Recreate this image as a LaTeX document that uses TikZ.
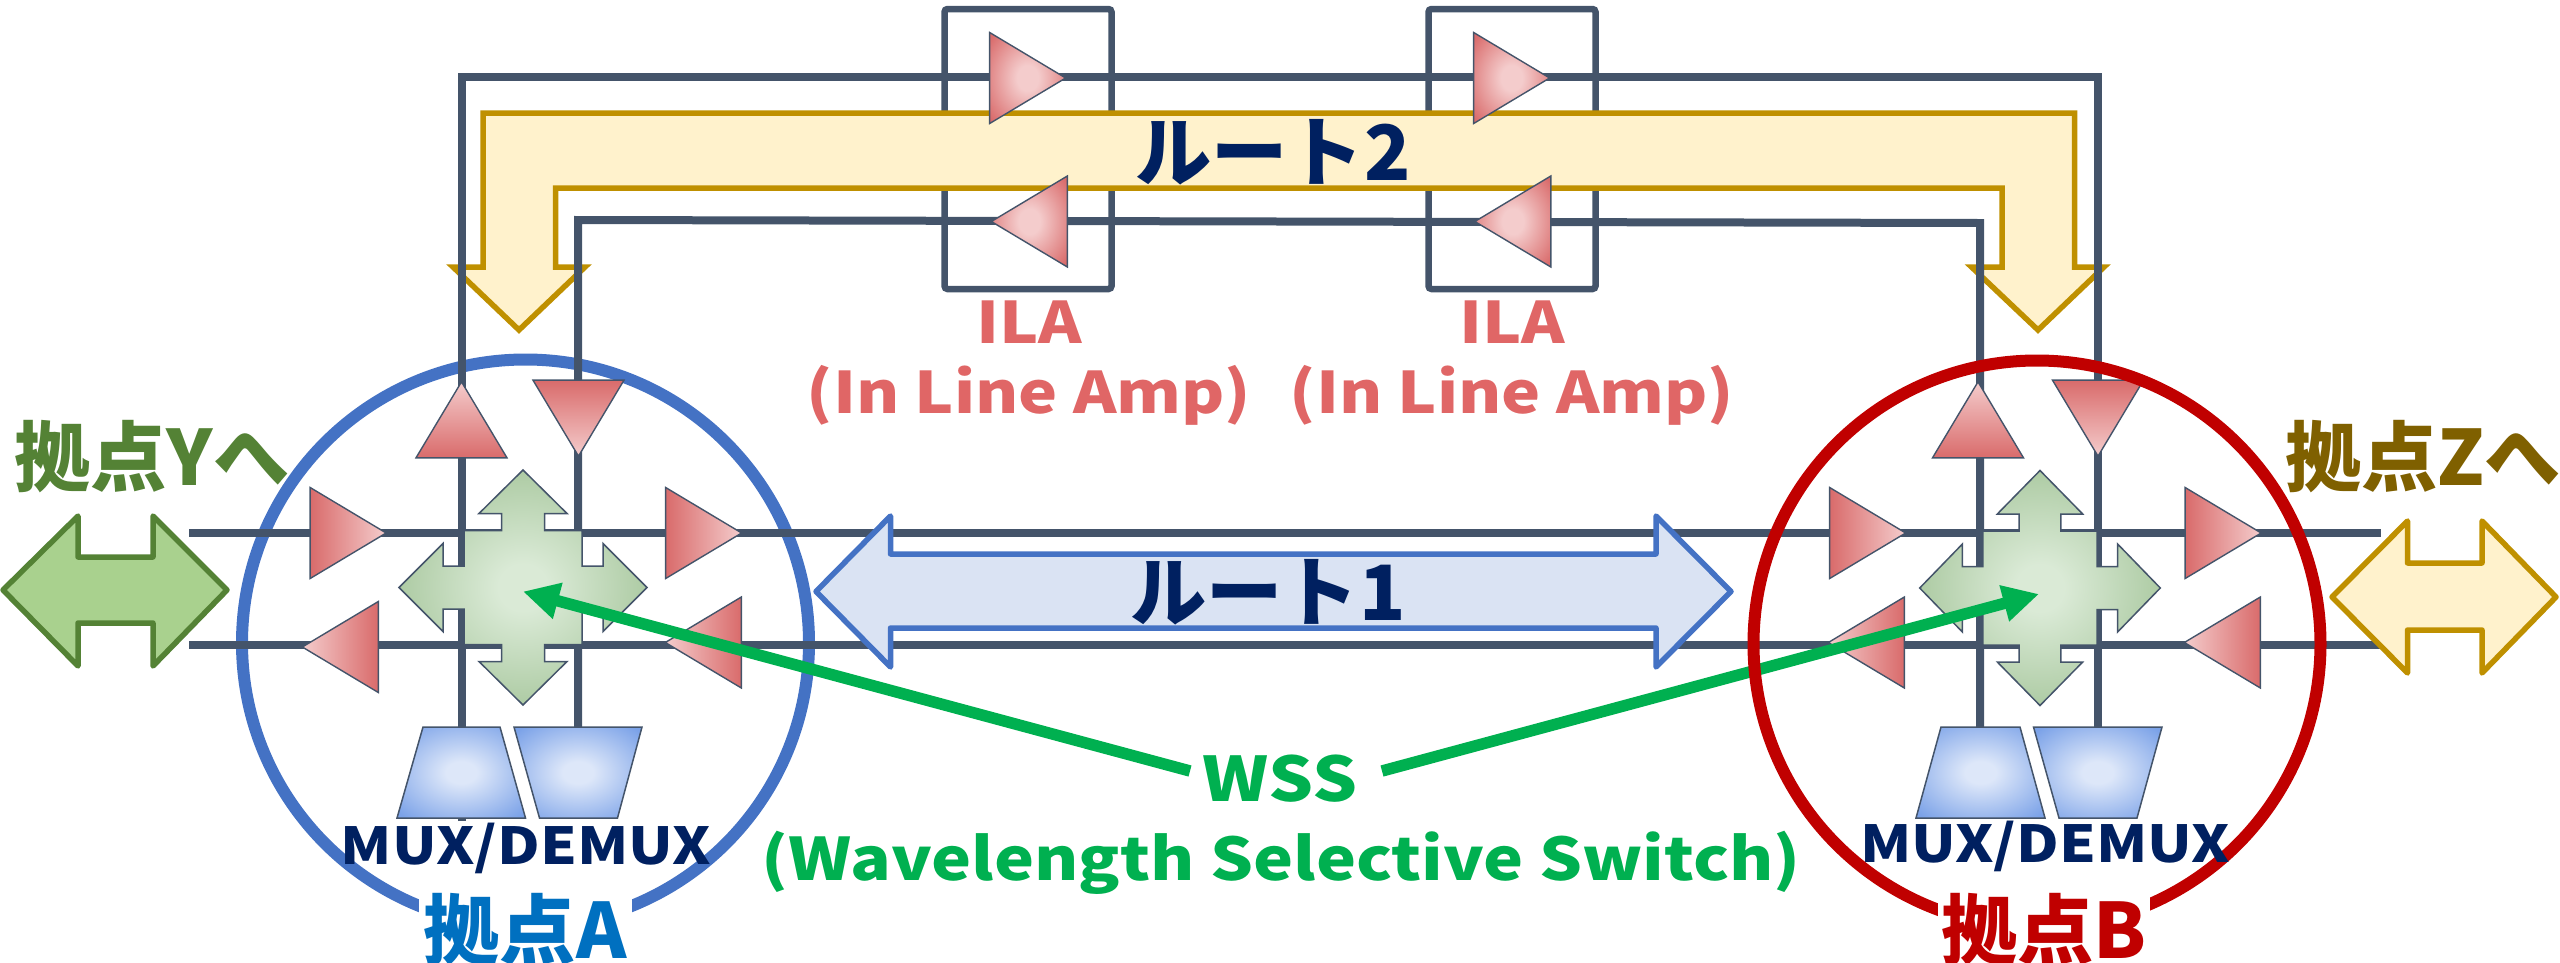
\documentclass[tikz,border=0pt]{standalone}
\usepackage{fontspec}
\setmainfont{Noto Sans CJK JP}
\newfontfamily\widefont{Noto Sans CJK JP}[FakeStretch=1.15]
\usetikzlibrary{positioning, shapes.geometric, arrows.meta}
\definecolor{busgray}{HTML}{44546A}
\definecolor{ampred}{HTML}{D96B6B}
\definecolor{amplight}{HTML}{F4CCCC}
\definecolor{crossdark}{HTML}{A9C89F}
\definecolor{crosslight}{HTML}{DAEAD6}
\definecolor{muxdark}{HTML}{7BA2E8}
\definecolor{muxlight}{HTML}{DDE7F9}
\definecolor{navytext}{HTML}{002060}
\definecolor{wssgreen}{HTML}{00B050}
\definecolor{ilatext}{HTML}{E06666}
\definecolor{sitegold}{HTML}{BF9000}
\definecolor{paleyellow}{HTML}{FFF2CC}
\definecolor{sitegreen}{HTML}{548235}
\definecolor{palegreen}{HTML}{A9D18E}
\definecolor{paleblue}{HTML}{DAE3F3}
\definecolor{siteblue}{HTML}{4472C4}
\definecolor{sitered}{HTML}{C00000}
\definecolor{nameblue}{HTML}{0070C0}
\definecolor{namegold}{HTML}{7F6000}
\pgfdeclareradialshading{ampglow}{\pgfpoint{0bp}{0bp}}{color(0bp)=(amplight); color(7bp)=(amplight); color(33bp)=(ampred); color(50bp)=(ampred)}
\pgfdeclareradialshading{crossglow}{\pgfpoint{0bp}{0bp}}{color(0bp)=(crosslight); color(5bp)=(crosslight); color(27bp)=(crossdark); color(50bp)=(crossdark)}
\pgfdeclareradialshading{muxglow}{\pgfpoint{0bp}{0bp}}{color(0bp)=(muxlight); color(6bp)=(muxlight); color(33bp)=(muxdark); color(50bp)=(muxdark)}
\tikzset{
    wsscross/.pic={
        \draw[busgray, line width=0.15mm, shading=crossglow]
            (0,-117.5) -- (44,-74) -- (21.5,-74) -- (21.5,-57) -- (59,-57) -- (59,-21.5) -- (80,-21.5) -- (80,-44)
            -- (124,0) -- (80,44) -- (80,21.5) -- (59,21.5) -- (59,57) -- (21.5,57) -- (21.5,74) -- (44,74)
            -- (0,117.5) -- (-44,74) -- (-21.5,74) -- (-21.5,57) -- (-59,57) -- (-59,21.5) -- (-80,21.5) -- (-80,44)
            -- (-124,0) -- (-80,-44) -- (-80,-21.5) -- (-59,-21.5) -- (-59,-57) -- (-21.5,-57) -- (-21.5,-74) -- (-44,-74) -- cycle;
    }
}

\begin{document}
\begin{tikzpicture}[x=0.1mm, y=-0.1mm,
    bus/.style={busgray, line width=0.8mm},
    ilabox/.style={draw=busgray, line width=0.65mm, rounded corners=0.3mm, minimum width=16.7mm, minimum height=28mm, inner sep=0},
    amp/.style={isosceles triangle, isosceles triangle stretches, draw=busgray, line width=0.14mm, inner sep=0, minimum height=7.6mm, minimum width=9.1mm, anchor=apex},
    lineamp/.style={amp, shading=ampglow},
    muxshape/.style={draw=busgray, line width=0.15mm, shading=muxglow},
    sitering/.style={circle, line width=1.2mm, inner sep=0, minimum size=56.7mm},
    biglabel/.style={inner sep=0, font=\bfseries\fontsize{21.7}{25}\selectfont},
    widelabel/.style={inner sep=0, align=center, font=\widefont\bfseries\fontsize{17.5}{20}\selectfont},
    ilalabel/.style={inner sep=0, align=center, text=ilatext, font=\widefont\bfseries\fontsize{16.3}{19.9}\selectfont},
    muxlabel/.style={inner sep=0, text=navytext, font=\widefont\bfseries\fontsize{14.5}{17}\selectfont},
    routeout/.style={line width=0.55mm, miter limit=10},
    twoway/.style={line width=0.55mm, line join=round},
    wssline/.style={wssgreen, line width=1.15mm, -{Triangle[length=3.6mm,width=3.5mm]}}]

    \useasboundingbox (0,0) rectangle (2560,963);

    \node[biglabel, text=sitegreen] (toy) at (152,457) {拠点Yへ};
    \node[biglabel, text=namegold] (toz) at (2423,457) {拠点Zへ};
    \node[sitering, draw=siteblue] (sitea) at (525.5,643) {};

    % ILA boxes, then route 2 on top of them
    \node[ilabox] (ilaone) at (1028,149) {};
    \node[ilabox] (ilatwo) at (1512,149) {};
    \draw[routeout, draw=sitegold, fill=paleyellow] (483,113) -- (2074.5,113) -- (2074.5,267) -- (2104,267) -- (2038,330)
        -- (1971.5,267) -- (2002,267) -- (2002,188) -- (555.5,188) -- (555.5,267) -- (585,267) -- (519,330) -- (453,267) -- (483,267) -- cycle;

    \coordinate (topa) at (461.5,77);
    \coordinate (topb) at (2098,77);
    \coordinate (lowa) at (578,220);
    \coordinate (lowb) at (1980,223);
    \coordinate (muxaa) at (461.5,821);
    \coordinate (muxab) at (578,730);
    \coordinate (muxba) at (1980,730);
    \coordinate (muxbb) at (2098,730);
    \coordinate (westup) at (189,533);
    \coordinate (eastup) at (2381,533);
    \coordinate (westlow) at (189,645);
    \coordinate (eastlow) at (2381,645);

    \draw[bus] (muxaa) -- (topa) -- (topb) -- (muxbb);
    \draw[bus] (muxab) -- (lowa) -- (lowb) -- (muxba);
    \draw[bus] (westup) -- (eastup);
    \draw[bus] (westlow) -- (eastlow);

    \node[lineamp] (ilaoneup) at (1067.5,78) {};
    \node[lineamp, shape border rotate=180] (ilaonedown) at (989.5,221.5) {};
    \node[lineamp] (ilatwoup) at (1551.5,78) {};
    \node[lineamp, shape border rotate=180] (ilatwodown) at (1473,221.5) {};

    \node[amp, shape border rotate=90, bottom color=ampred, top color=amplight] (aup) at (461.5,380) {};
    \node[amp, shape border rotate=270, top color=ampred, bottom color=amplight] (adown) at (578.5,458) {};
    \node[amp, left color=ampred, right color=amplight] (awest) at (388,533) {};
    \node[amp, left color=ampred, right color=amplight] (aeast) at (743.5,533) {};
    \node[amp, shape border rotate=180, right color=ampred, left color=amplight] (awestlow) at (300.5,647) {};
    \node[amp, shape border rotate=180, right color=ampred, left color=amplight] (aeastlow) at (663.5,642.5) {};

    \node[amp, shape border rotate=90, bottom color=ampred, top color=amplight] (bup) at (1978,380) {};
    \node[amp, shape border rotate=270, top color=ampred, bottom color=amplight] (bdown) at (2098,458) {};
    \node[amp, left color=ampred, right color=amplight] (bwest) at (1907.5,533) {};
    \node[amp, left color=ampred, right color=amplight] (beast) at (2263,533) {};
    \node[amp, shape border rotate=180, right color=ampred, left color=amplight] (bwestlow) at (1826.5,642.5) {};
    \node[amp, shape border rotate=180, right color=ampred, left color=amplight] (beastlow) at (2182.5,642.5) {};

    \pic (wssa) at (523,587.5) {wsscross};
    \pic[xscale=0.97] (wssb) at (2040,588) {wsscross};

    \draw[muxshape] (423,727) -- (500,727) -- (525.5,818) -- (397,818) -- cycle;
    \draw[muxshape] (514,727) -- (642,727) -- (617.5,818) -- (539.5,818) -- cycle;
    \draw[muxshape] (1941,727) -- (2020,727) -- (2045,818) -- (1916,818) -- cycle;
    \draw[muxshape] (2033.5,727) -- (2162,727) -- (2137,818) -- (2059,818) -- cycle;

    % the three double arrows
    \draw[twoway, draw=siteblue, fill=paleblue] (816,591.5) -- (890.5,516) -- (890.5,554) -- (1656,554) -- (1656,516)
        -- (1731,591.5) -- (1656,667) -- (1656,628) -- (890.5,628) -- (890.5,667) -- cycle;
    \draw[twoway, draw=sitegreen, fill=palegreen] (3,590) -- (78,516) -- (78,557) -- (153,557) -- (153,516)
        -- (227,590) -- (153,666) -- (153,623) -- (78,623) -- (78,666) -- cycle;
    \draw[twoway, draw=sitegold, fill=paleyellow] (2332,597) -- (2407.5,521) -- (2407.5,563) -- (2482,563) -- (2482,521)
        -- (2556,597) -- (2482,673) -- (2482,630) -- (2407.5,630) -- (2407.5,673) -- cycle;

    \node[widelabel, text=wssgreen] (wsstitle) at (1280,779) {WSS};
    \node[widelabel, text=wssgreen, font=\widefont\bfseries\fontsize{16.7}{20}\selectfont] (wssname) at (1281,863) {(Wavelength Selective Switch)};
    \coordinate (wssfroma) at (1190,771);
    \coordinate (wssfromb) at (1382,771);
    \coordinate (wsshita) at (523,591.5);
    \coordinate (wsshitb) at (2039,594);
    \draw[wssline] (wssfroma) -- (wsshita);
    \draw[wssline] (wssfromb) -- (wsshitb);

    \node[sitering, draw=sitered] (siteb) at (2037,644) {};

    \node[biglabel, text=navytext] (routetwo) at (1273,152) {ルート2};
    \node[biglabel, text=navytext] (routeone) at (1268,592) {ルート1};

    \node[ilalabel] (ilaonetext) at (1029,363) {ILA\\(In Line Amp)};
    \node[ilalabel] (ilatwotext) at (1512,363) {ILA\\(In Line Amp)};
    \node[muxlabel] (muxatext) at (526,848) {MUX/DEMUX};
    \node[muxlabel] (muxbtext) at (2045,846) {MUX/DEMUX};

    \node[biglabel, text=nameblue, fill=white, minimum width=21.3mm, minimum height=7.5mm] (namea) at (525,930) {拠点A};
    \node[biglabel, text=sitered, fill=white, minimum width=21.2mm, minimum height=7.5mm] (nameb) at (2044,930) {拠点B};
\end{tikzpicture}
\end{document}
